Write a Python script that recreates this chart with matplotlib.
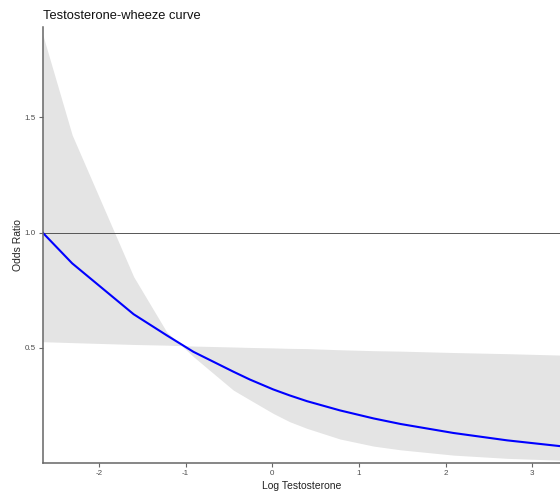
import numpy as np
import matplotlib.pyplot as plt

plt.rcParams['font.family'] = ['Liberation Sans', 'DejaVu Sans']
plt.rcParams['axes.unicode_minus'] = False

# spline fit of odds ratio against log testosterone, with confidence band
log_t = [-2.65, -2.31, -1.60, -1.22, -0.91, -0.45, -0.26, 0.01, 0.20, 0.40,
         0.78, 1.17, 1.48, 2.09, 2.71, 3.32]
odds = [1.0, 0.867, 0.646, 0.555, 0.483, 0.397, 0.363, 0.320, 0.294, 0.269,
        0.229, 0.194, 0.170, 0.131, 0.099, 0.074]
band_a = [1.86, 1.424, 0.809, 0.570, 0.462, 0.317, 0.275, 0.216, 0.180, 0.151,
          0.105, 0.074, 0.058, 0.035, 0.021, 0.013]
band_b = [0.527, 0.523, 0.515, 0.512, 0.508, 0.504, 0.502, 0.500, 0.498, 0.497,
          0.492, 0.488, 0.486, 0.480, 0.475, 0.469]

fig = plt.figure(figsize=(5.6, 4.96), dpi=100)
ax = fig.add_axes([0.0762, 0.0671, 0.9238, 0.878])

ax.fill_between(log_t, band_a, band_b, color='#e4e4e4', lw=0, interpolate=True)
ax.axhline(1.0, color='#555555', lw=0.7)
ax.plot(log_t, odds, color='#0000ff', lw=1.5, solid_joinstyle='round')

ax.set_xlim(-2.65, 3.32)
ax.set_ylim(0.002, 1.891)
ax.set_xticks([-2, -1, 0, 1, 2, 3])
ax.set_yticks([0.5, 1.0, 1.5])

for s in ['top', 'right']:
    ax.spines[s].set_visible(False)
for s in ['left', 'bottom']:
    ax.spines[s].set_color('#666666')
    ax.spines[s].set_linewidth(1.1)

ax.tick_params(axis='both', colors='#666666', length=3, width=0.8,
               labelsize=5.8, labelcolor='#4d4d4d', pad=2)

ax.set_xlabel('Log Testosterone', fontsize=7.5, color='#222222', labelpad=3)
ax.set_ylabel('Odds Ratio', fontsize=7.5, color='#222222', labelpad=1)
ax.set_title('Testosterone-wheeze curve', fontsize=9.3, loc='left', pad=6,
             color='#111111')

fig.savefig('out.png', dpi=100)
